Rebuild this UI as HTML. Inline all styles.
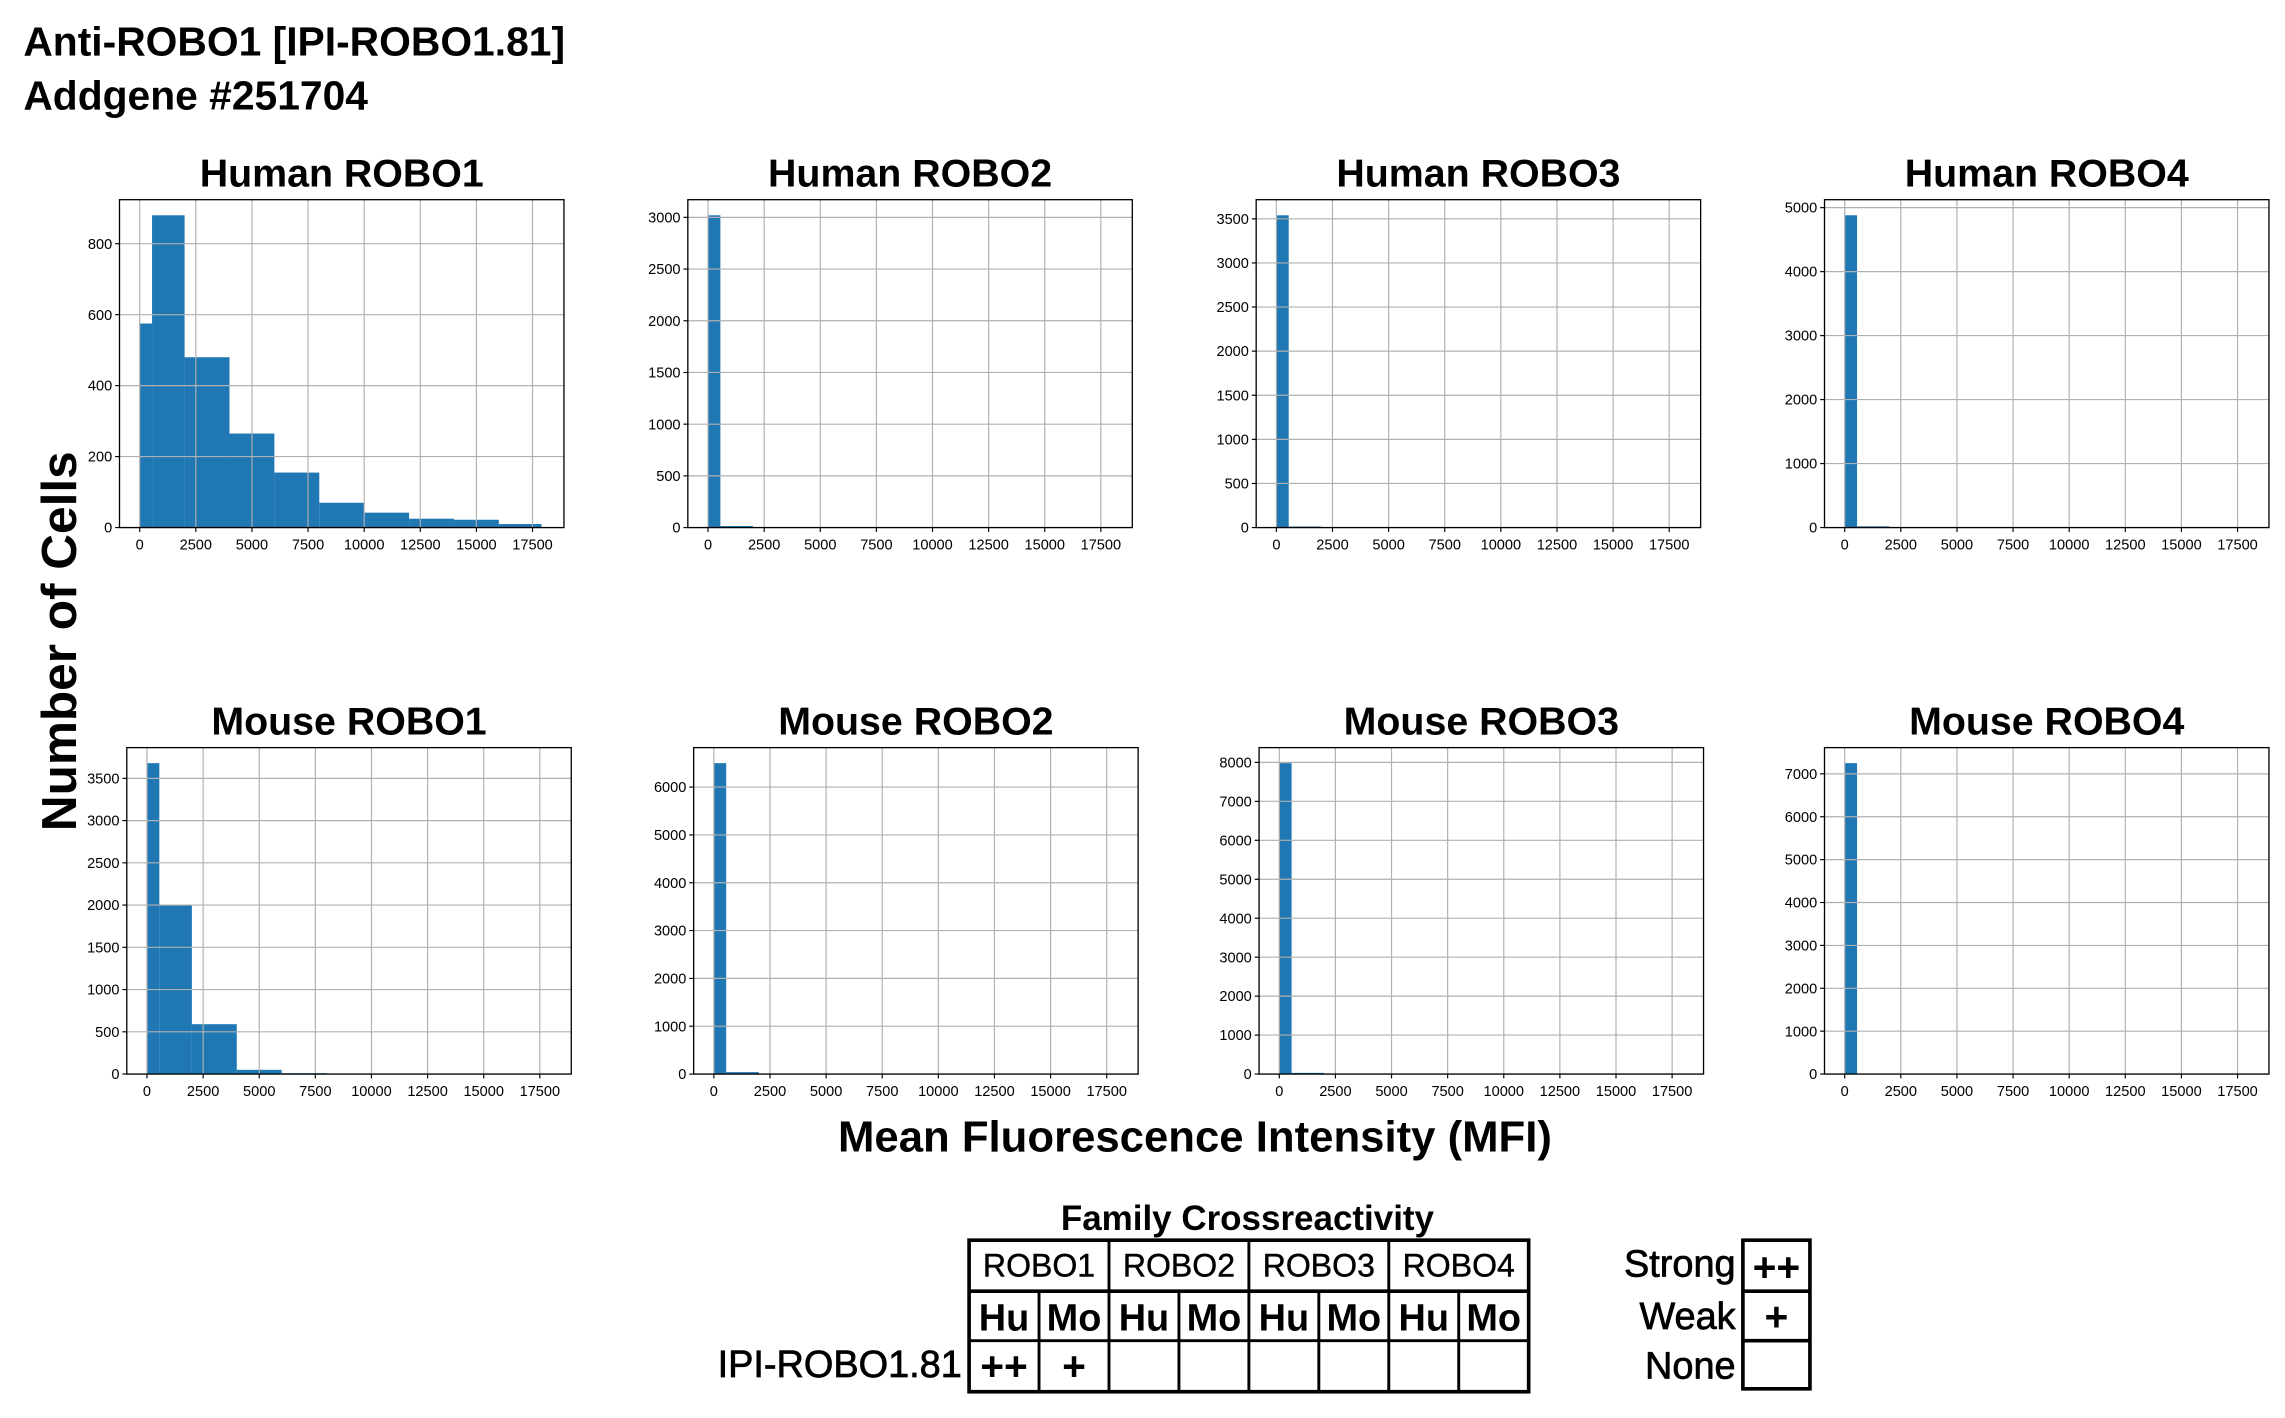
<!DOCTYPE html>
<html><head><meta charset="utf-8"><style>
html,body{margin:0;padding:0;background:#fff;}
svg{display:block;font-family:"Liberation Sans",Arial,sans-serif;}
</style></head><body>
<svg id="s" width="2285" height="1418" viewBox="0 0 1568 973" xmlns="http://www.w3.org/2000/svg">
<rect width="1568" height="973" fill="#fff"/>
<text x="16" y="38" font-size="28" font-weight="bold">Anti-ROBO1 [IPI-ROBO1.81]</text>
<text x="16" y="75" font-size="28" font-weight="bold">Addgene #251704</text>
<text transform="translate(52,440) rotate(-90)" text-anchor="middle" font-size="34" font-weight="bold">Number of Cells</text>
<text x="820" y="790" text-anchor="middle" font-size="30" font-weight="bold">Mean Fluorescence Intensity (MFI)</text>
<g id="plots"></g>
<g id="tbl"></g>
</svg>
<script>
var g=document.getElementById('plots');
var out='';
var panels=[
 {t:"Human ROBO1",L:82,T:137,B:362,ymax:924,step:200,top:800,bars:[[0,550,575],[550,2000,880],[2000,4000,480],[4000,6000,265],[6000,8000,155],[8000,10000,70],[10000,12000,42],[12000,14000,25],[14000,16000,22],[16000,17900,10]]},
 {t:"Human ROBO2",L:472,T:137,B:362,ymax:3171,step:500,top:3000,bars:[[0,550,3020],[550,2000,15]]},
 {t:"Human ROBO3",L:862,T:137,B:362,ymax:3717,step:500,top:3500,bars:[[0,550,3540],[550,2000,12]]},
 {t:"Human ROBO4",L:1252,T:137,B:362,ymax:5124,step:1000,top:5000,bars:[[0,550,4880],[550,2000,20]]},
 {t:"Mouse ROBO1",L:87,T:513,B:737,ymax:3864,step:500,top:3500,bars:[[0,550,3680],[550,2000,2000],[2000,4000,590],[4000,6000,50],[6000,8000,10]]},
 {t:"Mouse ROBO2",L:476,T:513,B:737,ymax:6825,step:1000,top:6000,bars:[[0,550,6500],[550,2000,40]]},
 {t:"Mouse ROBO3",L:864,T:513,B:737,ymax:8379,step:1000,top:8000,bars:[[0,550,7980],[550,2000,30]]},
 {t:"Mouse ROBO4",L:1252,T:513,B:737,ymax:7612,step:1000,top:7000,bars:[[0,550,7250],[550,2000,10]]}
];
panels.forEach(function(p){
 var W=305,R=p.L+W,H=p.B-p.T;
 var fx=function(v){return p.L+(v+900)/19800*W;};
 var fy=function(v){return p.B-v/p.ymax*H;};
 out+='<text x="'+(p.L+W/2)+'" y="'+(p.T-9)+'" text-anchor="middle" font-size="27" font-weight="bold">'+p.t+'</text>';
 p.bars.forEach(function(b){var x1=fx(b[0]),x2=fx(b[1]),y=fy(b[2]);
  out+='<rect x="'+x1+'" y="'+y+'" width="'+(x2-x1)+'" height="'+(p.B-y)+'" fill="#1f77b4"/>';});
 for(var v=0;v<=17500;v+=2500){var x=fx(v);
  out+='<line x1="'+x+'" y1="'+p.T+'" x2="'+x+'" y2="'+p.B+'" stroke="#b0b0b0" stroke-width="0.8"/>';
  out+='<line x1="'+x+'" y1="'+p.B+'" x2="'+x+'" y2="'+(p.B+3)+'" stroke="#000" stroke-width="0.8"/>';
  out+='<text x="'+x+'" y="'+(p.B+15)+'" text-anchor="middle" font-size="10">'+v+'</text>';}
 for(var v=0;v<=p.top;v+=p.step){var y=fy(v);
  out+='<line x1="'+p.L+'" y1="'+y+'" x2="'+R+'" y2="'+y+'" stroke="#b0b0b0" stroke-width="0.8"/>';
  out+='<line x1="'+(p.L-3)+'" y1="'+y+'" x2="'+p.L+'" y2="'+y+'" stroke="#000" stroke-width="0.8"/>';
  out+='<text x="'+(p.L-5)+'" y="'+(y+3.5)+'" text-anchor="end" font-size="10">'+v+'</text>';}
 out+='<rect x="'+p.L+'" y="'+p.T+'" width="'+W+'" height="'+H+'" fill="none" stroke="#000" stroke-width="0.9"/>';
});
g.innerHTML=out;
var t='';
t+='<text x="856" y="844" text-anchor="middle" font-size="24" font-weight="bold">Family Crossreactivity</text>';
var L=665,cw=48;
t+='<rect x="'+L+'" y="851" width="384" height="104" fill="#fff" stroke="#000" stroke-width="2.5"/>';
t+='<line x1="'+L+'" y1="886" x2="1049" y2="886" stroke="#000" stroke-width="2.5"/>';
t+='<line x1="'+L+'" y1="920" x2="1049" y2="920" stroke="#000" stroke-width="2"/>';
for(var i=1;i<8;i++){var x=L+i*cw;var y0=(i%2==0)?851:886;
 t+='<line x1="'+x+'" y1="'+y0+'" x2="'+x+'" y2="955" stroke="#000" stroke-width="2"/>';}
for(var k=0;k<4;k++){t+='<text x="'+(L+k*96+48)+'" y="876" text-anchor="middle" font-size="22" stroke="#000" stroke-width="0.3">ROBO'+(k+1)+'</text>';
 t+='<text x="'+(L+k*96+24)+'" y="913" text-anchor="middle" font-size="26" font-weight="bold">Hu</text>';
 t+='<text x="'+(L+k*96+72)+'" y="913" text-anchor="middle" font-size="26" font-weight="bold">Mo</text>';}
t+='<text x="'+(L+24)+'" y="947" text-anchor="middle" font-size="28" font-weight="bold">++</text>';
t+='<text x="'+(L+72)+'" y="947" text-anchor="middle" font-size="28" font-weight="bold">+</text>';
t+='<text x="660" y="945" text-anchor="end" font-size="26" stroke="#000" stroke-width="0.5">IPI-ROBO1.81</text>';
t+='<rect x="1196" y="851" width="46" height="102" fill="#fff" stroke="#000" stroke-width="2.5"/>';
t+='<line x1="1196" y1="886" x2="1242" y2="886" stroke="#000" stroke-width="2.5"/>';
t+='<line x1="1196" y1="920" x2="1242" y2="920" stroke="#000" stroke-width="2.5"/>';
t+='<text x="1219" y="879" text-anchor="middle" font-size="28" font-weight="bold">++</text>';
t+='<text x="1219" y="913" text-anchor="middle" font-size="28" font-weight="bold">+</text>';
t+='<text x="1191" y="876" text-anchor="end" font-size="26" stroke="#000" stroke-width="0.5">Strong</text>';
t+='<text x="1191" y="912" text-anchor="end" font-size="26" stroke="#000" stroke-width="0.5">Weak</text>';
t+='<text x="1191" y="946" text-anchor="end" font-size="26" stroke="#000" stroke-width="0.5">None</text>';
document.getElementById('tbl').innerHTML=t;
</script>
</body></html>
